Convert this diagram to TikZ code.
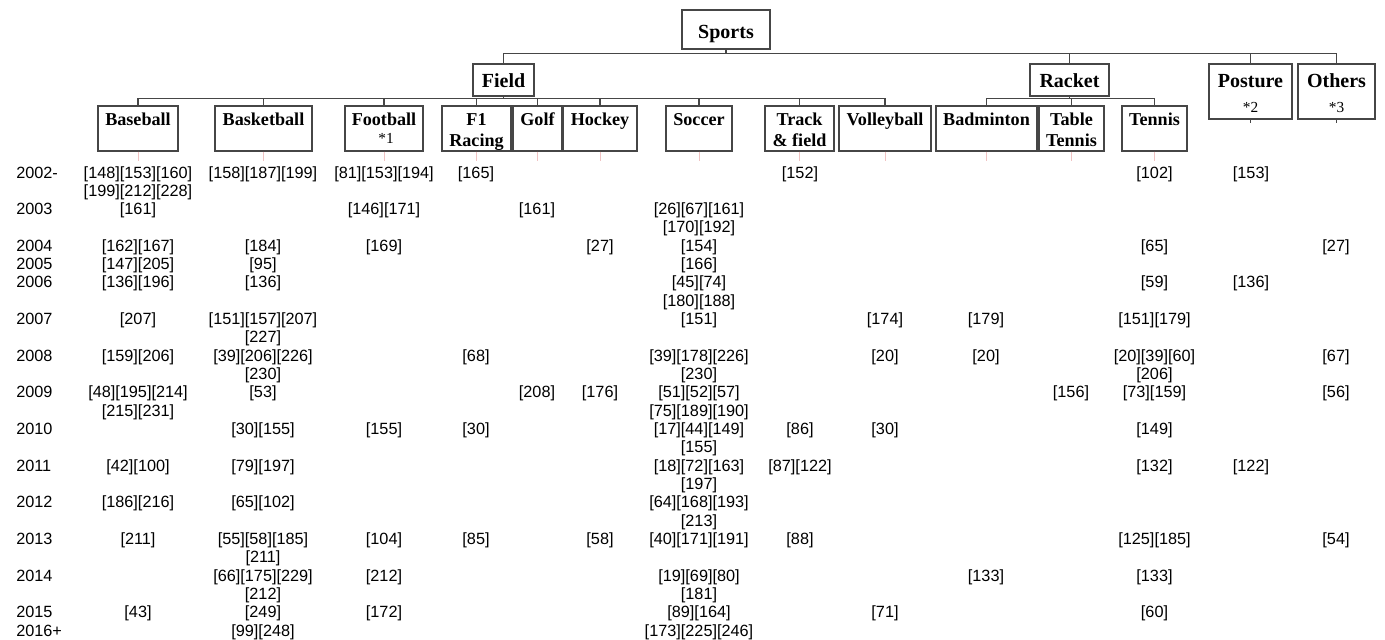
\documentclass[tikz,border=0pt]{standalone}
\usepackage{fontspec}
\setmainfont{Liberation Serif}
\newfontfamily\arialf{Liberation Sans}
\definecolor{boxline}{RGB}{70,70,70}
\definecolor{tickred}{RGB}{240,195,195}
\newcounter{cn}
\newcommand\cit[3]{\stepcounter{cn}\node[dt] (c\arabic{cn}) at (#1,{178+#2*18.32}) {#3};}
\newcommand\yr[2]{\node[yl] (y#1) at (16,{178+#2*18.32}) {#1};}
\begin{document}
\begin{tikzpicture}[x=0.75pt,y=-0.75pt,
  box/.style={draw=boxline,line width=0.9pt,fill=white,inner sep=0pt},
  top/.style={font=\fontsize{15}{18}\selectfont\bfseries,anchor=base,inner sep=0pt},
  lf/.style={font=\fontsize{13.6}{16}\selectfont\bfseries,anchor=base,inner sep=0pt},
  note/.style={font=\fontsize{11.5}{14}\selectfont,anchor=base,inner sep=0pt},
  conn/.style={draw=boxline,line width=0.9pt},
  tick/.style={draw=tickred,line width=0.6pt},
  dt/.style={font=\arialf\fontsize{12.2}{14}\selectfont,anchor=base,inner sep=0pt},
  yl/.style={font=\arialf\fontsize{12.2}{14}\selectfont,anchor=base west,inner sep=0pt}]
\useasboundingbox (0,0) rectangle (1385,639);
% top levels
\node[box,minimum width=88*0.75pt,minimum height=39*0.75pt] (sports) at (726,29.5) {};
\node[top] (sportsL) at (726,38) {Sports};
\node[box,minimum width=61*0.75pt,minimum height=32*0.75pt] (field) at (503.5,80) {};
\node[top] (fieldL) at (503.5,87) {Field};
\node[box,minimum width=79*0.75pt,minimum height=32*0.75pt] (racket) at (1069.5,80) {};
\node[top] (racketL) at (1069.5,87) {Racket};
\node[box,minimum width=83*0.75pt,minimum height=55*0.75pt] (posture) at (1250.5,91.5) {};
\node[top] (postureL) at (1250.5,87.5) {Posture};
\node[note] (postureN) at (1250.5,112) {*2};
\node[box,minimum width=77*0.75pt,minimum height=55*0.75pt] (others) at (1336.5,91.5) {};
\node[top] (othersL) at (1336.5,87.5) {Others};
\node[note] (othersN) at (1336.5,112) {*3};
% leaves
\foreach \n/\x/\w in {baseball/138/80,basketball/263.5/97,football/384/78,fone/476.5/69,golf/537.5/49,hockey/600/74,soccer/699/66,track/799.5/69,volley/885/92,badminton/986.5/101,ttennis/1071.5/65,tennis/1154.5/65}
  \node[box,minimum width=\w*0.75pt,minimum height=45*0.75pt] (\n) at (\x,128.5) {};
\node[lf] (baseballL) at (138,125) {Baseball};
\node[lf] (basketballL) at (263.5,125) {Basketball};
\node[lf] (footballL) at (384,125) {Football};
\node[note] (footballN) at (386,143.5) {*1};
\node[lf] (foneL) at (476.5,125) {F1};
\node[lf] (foneL2) at (476.5,146.5) {Racing};
\node[lf] (golfL) at (537.5,125) {Golf};
\node[lf] (hockeyL) at (600,125) {Hockey};
\node[lf] (soccerL) at (699,125) {Soccer};
\node[lf] (trackL) at (799.5,125) {Track};
\node[lf] (trackL2) at (799.5,146.5) {\& field};
\node[lf] (volleyL) at (885,125) {Volleyball};
\node[lf] (badmintonL) at (986.5,125) {Badminton};
\node[lf] (ttennisL) at (1071.5,125) {Table};
\node[lf] (ttennisL2) at (1071.5,146.5) {Tennis};
\node[lf] (tennisL) at (1154.5,125) {Tennis};
% connectors
\foreach \n in {field,racket,posture,others}
  \draw[conn] (sports.south) -- ++(0,4) -| (\n.north);
\foreach \n in {baseball,basketball,football,fone,golf,hockey,soccer,track,volley}
  \draw[conn] (field.south) -- ++(0,2) -| (\n.north);
\foreach \n in {badminton,ttennis,tennis}
  \draw[conn] (racket.south) -- ++(0,2) -| (\n.north);
\foreach \n in {baseball,basketball,football,fone,golf,hockey,soccer,track,volley,badminton,ttennis,tennis}
  \draw[tick] (\n.south) -- ++(0,9);
\foreach \n in {posture,others}
  \draw[conn,line width=0.6pt] (\n.south) -- ++(0,3);
% years
\yr{2002-}{0}\yr{2003}{2}\yr{2004}{4}\yr{2005}{5}\yr{2006}{6}\yr{2007}{8}\yr{2008}{10}
\yr{2009}{12}\yr{2010}{14}\yr{2011}{16}\yr{2012}{18}\yr{2013}{20}\yr{2014}{22}\yr{2015}{24}\yr{2016+}{25}
% Baseball
\cit{138}{0}{[148][153][160]}\cit{138}{1}{[199][212][228]}\cit{138}{2}{[161]}
\cit{138}{4}{[162][167]}\cit{138}{5}{[147][205]}\cit{138}{6}{[136][196]}
\cit{138}{8}{[207]}\cit{138}{10}{[159][206]}\cit{138}{12}{[48][195][214]}
\cit{138}{13}{[215][231]}\cit{138}{16}{[42][100]}\cit{138}{18}{[186][216]}
\cit{138}{20}{[211]}\cit{138}{24}{[43]}
% Basketball
\cit{263}{0}{[158][187][199]}\cit{263}{4}{[184]}\cit{263}{5}{[95]}\cit{263}{6}{[136]}
\cit{263}{8}{[151][157][207]}\cit{263}{9}{[227]}\cit{263}{10}{[39][206][226]}
\cit{263}{11}{[230]}\cit{263}{12}{[53]}\cit{263}{14}{[30][155]}\cit{263}{16}{[79][197]}
\cit{263}{18}{[65][102]}\cit{263}{20}{[55][58][185]}\cit{263}{21}{[211]}
\cit{263}{22}{[66][175][229]}\cit{263}{23}{[212]}\cit{263}{24}{[249]}\cit{263}{25}{[99][248]}
% Football
\cit{384}{0}{[81][153][194]}\cit{384}{2}{[146][171]}\cit{384}{4}{[169]}
\cit{384}{14}{[155]}\cit{384}{20}{[104]}\cit{384}{22}{[212]}\cit{384}{24}{[172]}
% F1
\cit{476}{0}{[165]}\cit{476}{10}{[68]}\cit{476}{14}{[30]}\cit{476}{20}{[85]}
% Golf
\cit{537}{2}{[161]}\cit{537}{12}{[208]}
% Hockey
\cit{600}{4}{[27]}\cit{600}{12}{[176]}\cit{600}{20}{[58]}
% Soccer
\cit{699}{2}{[26][67][161]}\cit{699}{3}{[170][192]}\cit{699}{4}{[154]}\cit{699}{5}{[166]}
\cit{699}{6}{[45][74]}\cit{699}{7}{[180][188]}\cit{699}{8}{[151]}
\cit{699}{10}{[39][178][226]}\cit{699}{11}{[230]}\cit{699}{12}{[51][52][57]}
\cit{699}{13}{[75][189][190]}\cit{699}{14}{[17][44][149]}\cit{699}{15}{[155]}
\cit{699}{16}{[18][72][163]}\cit{699}{17}{[197]}\cit{699}{18}{[64][168][193]}
\cit{699}{19}{[213]}\cit{699}{20}{[40][171][191]}\cit{699}{22}{[19][69][80]}
\cit{699}{23}{[181]}\cit{699}{24}{[89][164]}\cit{699}{25}{[173][225][246]}
% Track & field
\cit{800}{0}{[152]}\cit{800}{14}{[86]}\cit{800}{16}{[87][122]}\cit{800}{20}{[88]}
% Volleyball
\cit{885}{8}{[174]}\cit{885}{10}{[20]}\cit{885}{14}{[30]}\cit{885}{24}{[71]}
% Badminton
\cit{986}{8}{[179]}\cit{986}{10}{[20]}\cit{986}{22}{[133]}
% Table Tennis
\cit{1071}{12}{[156]}
% Tennis
\cit{1154.5}{0}{[102]}\cit{1154.5}{4}{[65]}\cit{1154.5}{6}{[59]}\cit{1154.5}{8}{[151][179]}
\cit{1154.5}{10}{[20][39][60]}\cit{1154.5}{11}{[206]}\cit{1154.5}{12}{[73][159]}
\cit{1154.5}{14}{[149]}\cit{1154.5}{16}{[132]}\cit{1154.5}{20}{[125][185]}
\cit{1154.5}{22}{[133]}\cit{1154.5}{24}{[60]}
% Posture
\cit{1251}{0}{[153]}\cit{1251}{6}{[136]}\cit{1251}{16}{[122]}
% Others
\cit{1336}{4}{[27]}\cit{1336}{10}{[67]}\cit{1336}{12}{[56]}\cit{1336}{20}{[54]}
\end{tikzpicture}
\end{document}
